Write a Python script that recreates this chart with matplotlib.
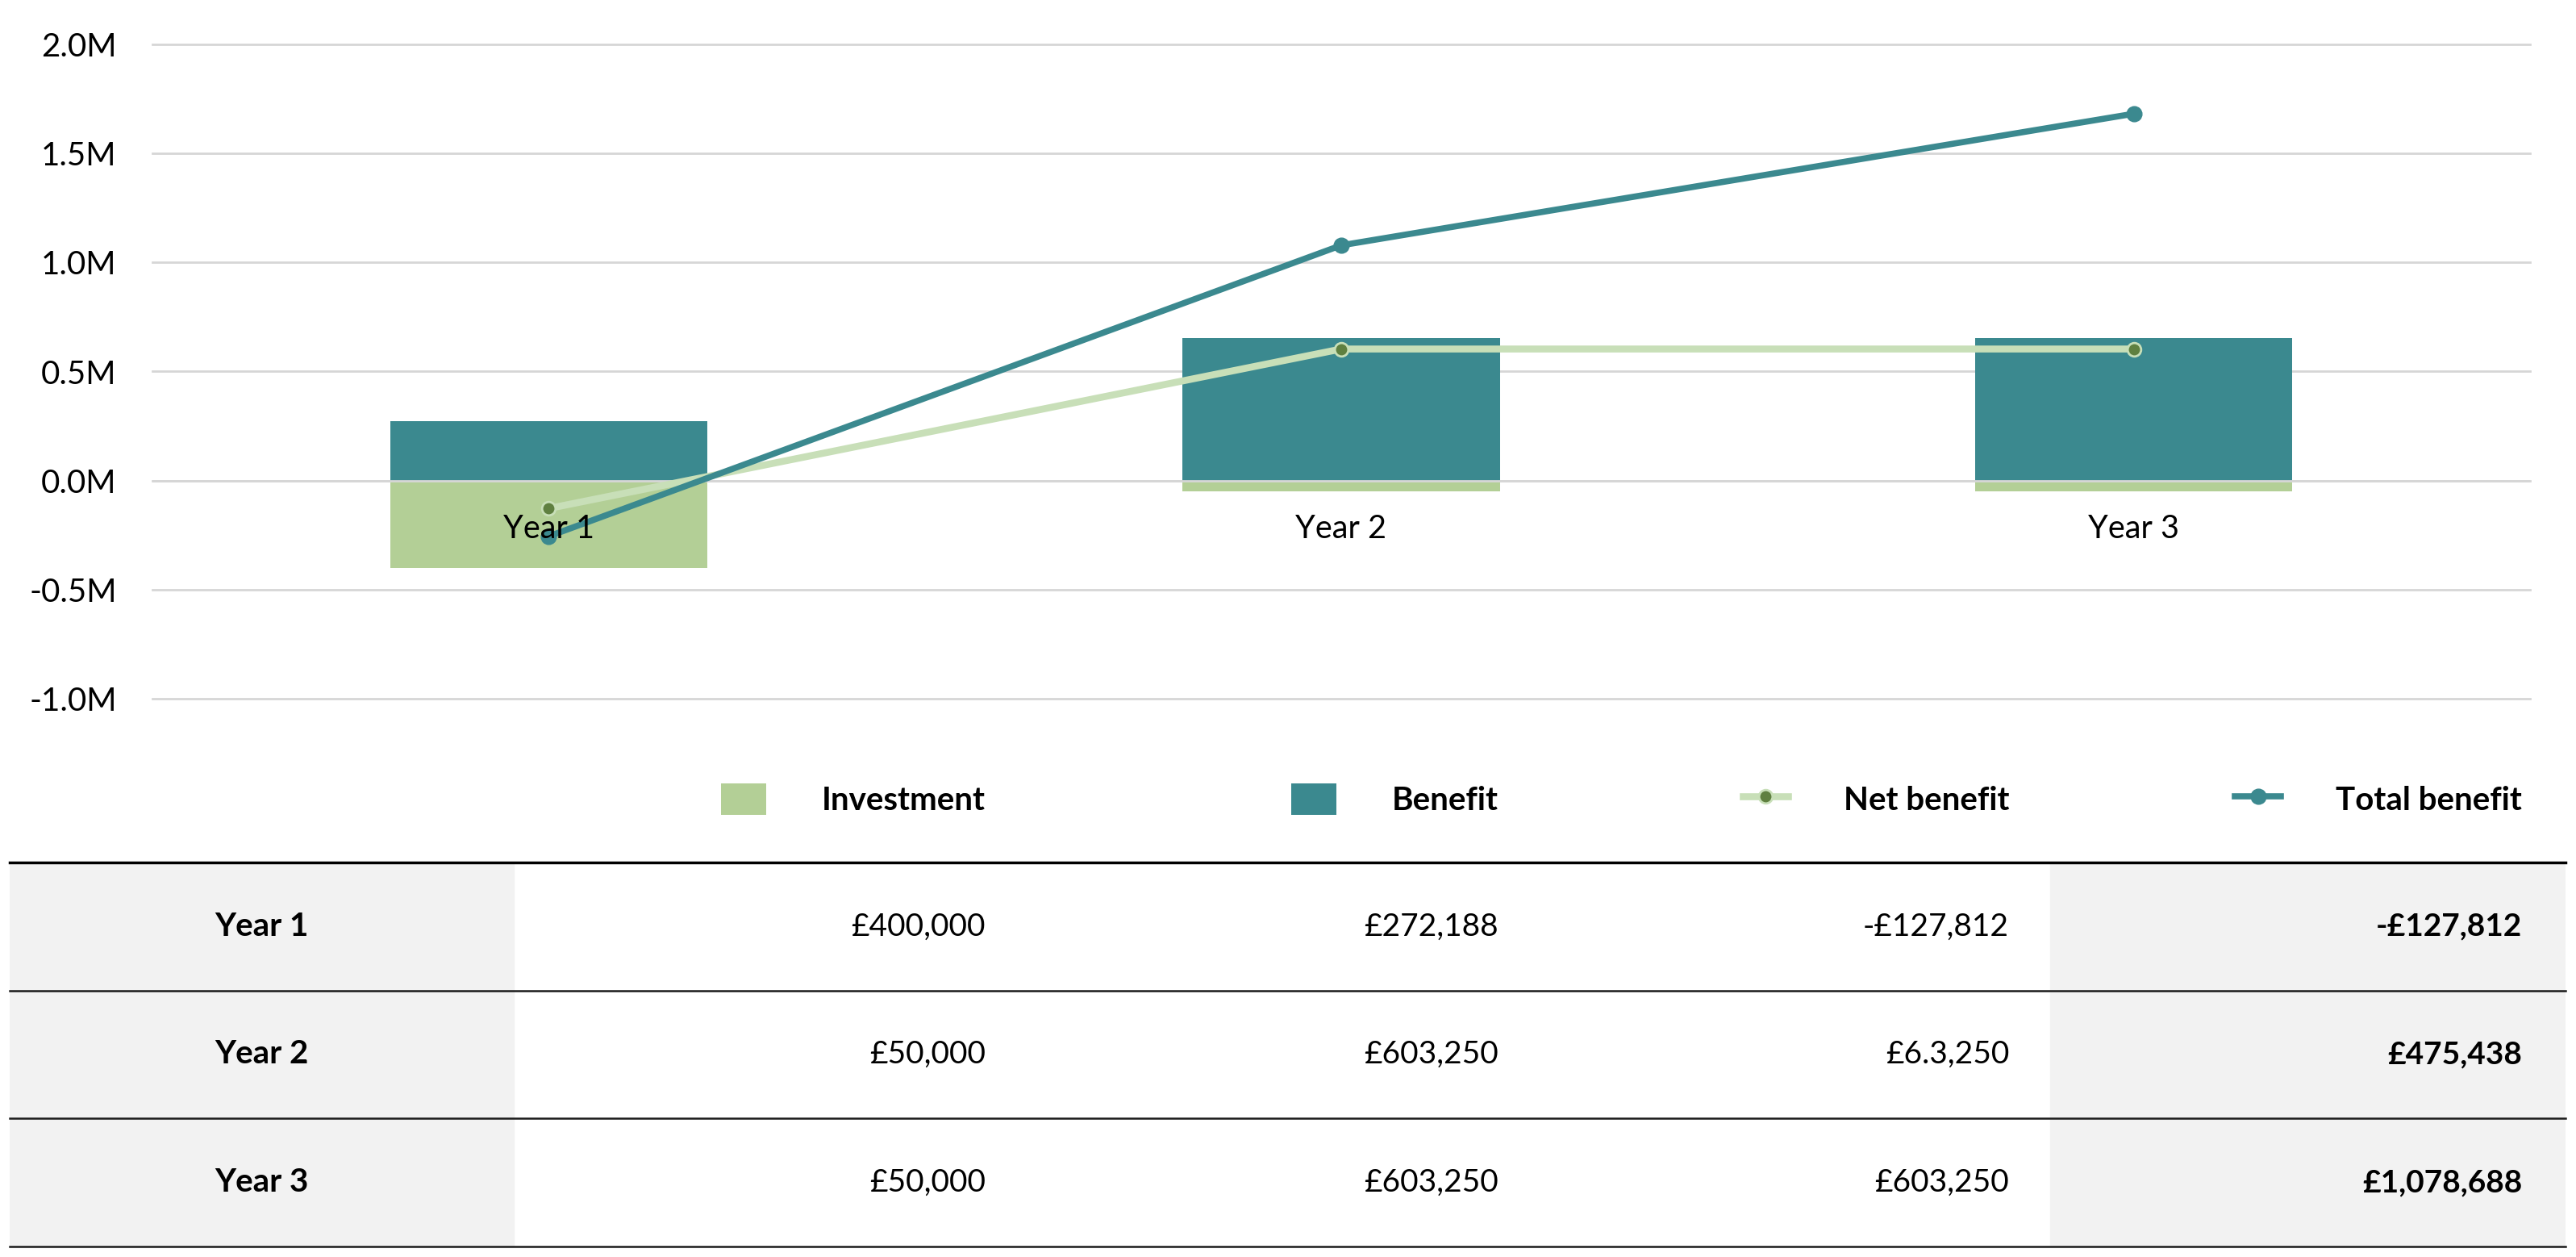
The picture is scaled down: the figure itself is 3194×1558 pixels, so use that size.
import matplotlib.pyplot as plt
from matplotlib.ticker import FuncFormatter
import numpy as np

plt.rcParams['font.family'] = ['Lato', 'DejaVu Sans']

# Chart data
years = ["Year 1", "Year 2", "Year 3"]
investment = [-400000, -50000, -50000]
benefit = [272188, 653250, 653250]
net_benefit = [-127812, 603250, 603250]
total_benefit = [-255624, 1078688, 1681938]

# Table text (as printed under the chart)
table_investment = ["£400,000", "£50,000", "£50,000"]
table_benefit = ["£272,188", "£603,250", "£603,250"]
table_net = ["-£127,812", "£6.3,250", "£603,250"]
table_total = ["-£127,812", "£475,438", "£1,078,688"]

legend_labels = ["Investment", "Benefit", "Net benefit", "Total benefit"]

# Colours
c_invest = "#b3cf96"
c_benefit = "#3b898f"
c_net_line = "#c8dfb8"
c_net_marker = "#5f8040"
c_grid = "#d6d6d6"

W, H = 3194, 1558
fig = plt.figure(figsize=(W / 100, H / 100), dpi=100)

# ---- chart ----
ax = fig.add_axes([189 / W, 1 - 866 / H, 2948 / W, 811 / H])
x = np.arange(len(years))
bar_w = 0.4

b_inv = ax.bar(x, investment, bar_w, color=c_invest, zorder=2, label=legend_labels[0])
b_ben = ax.bar(x, benefit, bar_w, color=c_benefit, zorder=2, label=legend_labels[1])
ax.axhline(0, color=c_grid, lw=2, zorder=2.5)

l_net, = ax.plot(x, net_benefit, color=c_net_line, lw=6.2, marker='o', markersize=12,
                 markerfacecolor=c_net_marker, markeredgecolor=c_net_line, markeredgewidth=2,
                 zorder=4, label=legend_labels[2])
l_tot, = ax.plot(x, total_benefit, color=c_benefit, lw=5.5, marker='o', markersize=13.5,
                 zorder=4, label=legend_labels[3])

ax.set_xlim(-0.5, len(years) - 0.5)
ax.set_ylim(-1.0e6, 2.0e6)
ax.set_yticks(np.arange(-1.0e6, 2.01e6, 0.5e6))
ax.yaxis.set_major_formatter(FuncFormatter(lambda v, p: f"{v / 1e6:.1f}M"))
ax.yaxis.grid(True, color=c_grid, lw=2)
ax.yaxis.set_zorder(0.5)
for gl in ax.yaxis.get_gridlines():
    gl.set_clip_on(False)
ax.tick_params(axis='y', length=0, pad=32, labelsize=29, labelcolor='black')

ax.set_xticks(x)
ax.set_xticklabels(years)
ax.spines['bottom'].set_position(('data', 0))
ax.xaxis.set_zorder(5)
ax.tick_params(axis='x', length=0, pad=30, labelsize=28.5, labelcolor='black')
for s in ax.spines.values():
    s.set_visible(False)

# ---- table ----
t_left, t_right, t_top, t_bot = 12, 3181, 1069, 1545
tax = fig.add_axes([t_left / W, 1 - t_bot / H, (t_right - t_left) / W, (t_bot - t_top) / H])
tax.set_xlim(0, 1)
tax.set_ylim(len(years), 0)
tax.axis('off')

first_col_end = 0.1972
last_col_start = 0.7984
col_right = [0.3818, 0.5825, 0.7823, 0.9830]

tax.axvspan(0, first_col_end, color="#f2f2f2", zorder=0)
tax.axvspan(last_col_start, 1, color="#f2f2f2", zorder=0)
tax.axhline(0, color='black', lw=2.5, zorder=3, clip_on=False)
for r in range(1, len(years) + 1):
    tax.axhline(r, color='#1a1a1a', lw=1.8, zorder=3, clip_on=False)

for i, yr in enumerate(years):
    yc = i + 0.5
    tax.text(0.0985, yc, yr, ha='center', va='center', fontsize=29, fontweight='bold')
    cols = [table_investment[i], table_benefit[i], table_net[i], table_total[i]]
    for j, txt in enumerate(cols):
        tax.text(col_right[j], yc, txt, ha='right', va='center', fontsize=28,
                 fontweight='bold' if j == 3 else 'normal')

# ---- legend: one entry above each table column ----
handles = [b_inv, b_ben, l_net, l_tot]
leg_y = 1 - 991 / H
for j, h in enumerate(handles):
    xr = (t_left + col_right[j] * (t_right - t_left)) / W
    fig.legend(handles=[h], labels=[legend_labels[j]], loc='center right',
               bbox_to_anchor=(xr, leg_y), frameon=False, borderpad=0,
               borderaxespad=0, handlelength=1.4, handleheight=1.1,
               handletextpad=1.7, prop={'size': 29, 'weight': 'bold'})

fig.savefig("out.png", dpi=100)
